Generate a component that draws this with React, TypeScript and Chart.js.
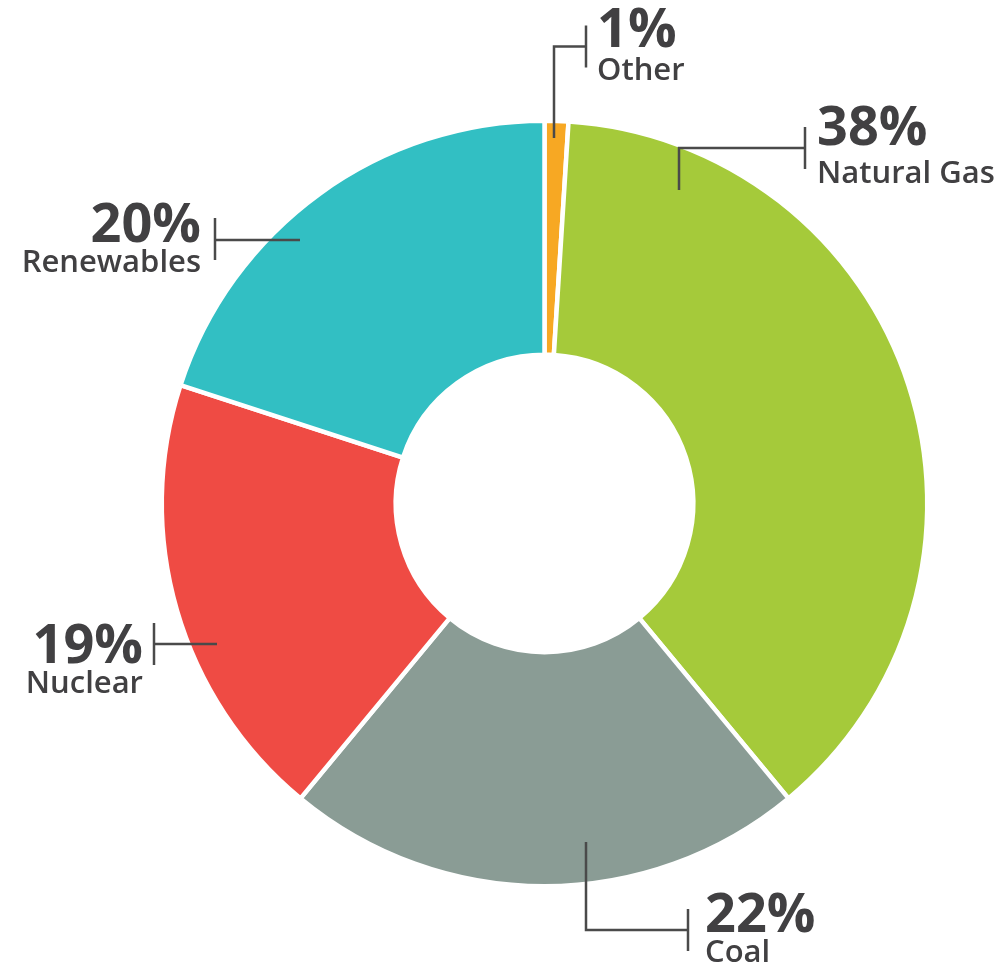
import React, { useEffect, useRef } from "react";
import { Chart, registerables } from "chart.js";

Chart.register(...registerables);

// ---- data ----
const categories = ["Other", "Natural Gas", "Coal", "Nuclear", "Renewables"];
const shares = [1, 38, 22, 19, 20];
const percentLabels = ["1%", "38%", "22%", "19%", "20%"];
const sliceColors = ["#F7A823", "#A5CA3A", "#8A9C95", "#EF4B44", "#32BFC3"];

// ---- annotation layout (offsets from the doughnut centre, px) ----
type Leader = {
  path: [number, number][];
  tickX: number;
  tickY: number;
  textX: number;
  align: CanvasTextAlign;
  pctBase: number;
  nameBase: number;
};
const leaderLayout: Leader[] = [
  { path: [[9.5, -365.5], [9.5, -457], [41.5, -457]], tickX: 41.5, tickY: -457, textX: 52.5, align: "left", pctBase: -456.5, nameBase: -423.5 },
  { path: [[134.5, -313.5], [134.5, -355.5], [260.5, -355.5]], tickX: 260.5, tickY: -355.5, textX: 272.5, align: "left", pctBase: -358.5, nameBase: -320.5 },
  { path: [[41.5, 338.5], [41.5, 426.5], [143.5, 426.5]], tickX: 143.5, tickY: 426.5, textX: 160.5, align: "left", pctBase: 428.5, nameBase: 458.5 },
  { path: [[-327.5, 140.5], [-390.5, 140.5]], tickX: -390.5, tickY: 140.5, textX: -401.5, align: "right", pctBase: 159.5, nameBase: 189.5 },
  { path: [[-244.5, -263.5], [-329.5, -263.5]], tickX: -329.5, tickY: -264.5, textX: -343.5, align: "right", pctBase: -261.5, nameBase: -231.5 },
];

const TEXT_COLOR = "#414042";
const LINE_COLOR = "#4a4a4a";

const leaderPlugin = {
  id: "leaders",
  afterDraw(chart: any) {
    const meta = chart.getDatasetMeta(0);
    const arc = meta.data[0];
    if (!arc) return;
    const cx = arc.x;
    const cy = arc.y;
    const ctx: CanvasRenderingContext2D = chart.ctx;
    ctx.save();
    ctx.strokeStyle = LINE_COLOR;
    ctx.lineWidth = 2.5;
    ctx.lineCap = "butt";
    ctx.lineJoin = "miter";
    leaderLayout.forEach((l, i) => {
      ctx.beginPath();
      l.path.forEach(([dx, dy], k) => {
        if (k === 0) ctx.moveTo(cx + dx, cy + dy);
        else ctx.lineTo(cx + dx, cy + dy);
      });
      ctx.stroke();
      ctx.beginPath();
      ctx.moveTo(cx + l.tickX, cy + l.tickY - 21);
      ctx.lineTo(cx + l.tickX, cy + l.tickY + 21);
      ctx.stroke();

      ctx.fillStyle = TEXT_COLOR;
      ctx.textAlign = l.align;
      ctx.textBaseline = "alphabetic";
      ctx.font = "700 54px 'Open Sans', sans-serif";
      ctx.fillText(percentLabels[i], cx + l.textX, cy + l.pctBase);
      ctx.font = "600 31px 'Open Sans', sans-serif";
      ctx.fillText(categories[i], cx + l.textX, cy + l.nameBase);
    });
    ctx.restore();
  },
};

export default function App() {
  const canvasRef = useRef<HTMLCanvasElement | null>(null);

  useEffect(() => {
    if (!canvasRef.current) return;
    const chart = new Chart(canvasRef.current, {
      type: "doughnut",
      data: {
        labels: categories,
        datasets: [
          {
            data: shares,
            backgroundColor: sliceColors,
            borderColor: "#ffffff",
            borderWidth: 4.5,
            hoverBorderWidth: 4.5,
            hoverOffset: 0,
          },
        ],
      },
      options: {
        responsive: false,
        animation: false,
        devicePixelRatio: 1,
        cutout: "38.86%",
        layout: { padding: { left: 159.5, top: 118.5, right: 73.5, bottom: 77.5 } },
        plugins: {
          legend: { display: false },
          tooltip: { enabled: false },
          title: { display: false },
        },
        events: [],
      },
      plugins: [leaderPlugin],
    });
    return () => chart.destroy();
  }, []);

  return (
    <div style={{ position: "fixed", left: 0, top: 0, width: 1003, height: 966, background: "#ffffff" }}>
      <canvas ref={canvasRef} width={1003} height={966} style={{ display: "block", width: 1003, height: 966 }} />
    </div>
  );
}
